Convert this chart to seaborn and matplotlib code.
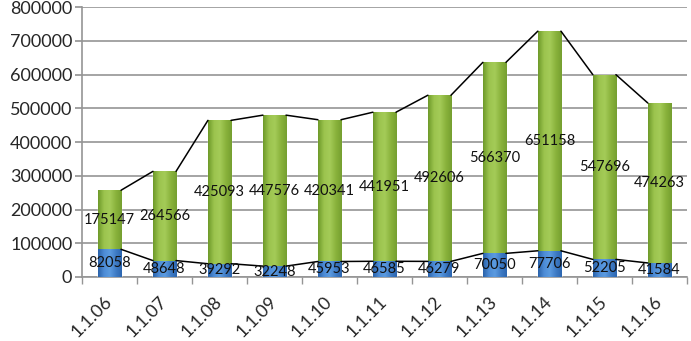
import matplotlib
matplotlib.use("Agg")
import matplotlib.pyplot as plt
import matplotlib.colors as mcolors
import seaborn as sns
import numpy as np
import pandas as pd

categories = ["1.1.06", "1.1.07", "1.1.08", "1.1.09", "1.1.10", "1.1.11",
              "1.1.12", "1.1.13", "1.1.14", "1.1.15", "1.1.16"]
blue_values = [82058, 48648, 39292, 32248, 45953, 46585, 46279, 70050, 77706, 52205, 41584]
green_values = [175147, 264566, 425093, 447576, 420341, 441951, 492606, 566370, 651158, 547696, 474263]
y_ticks = [0, 100000, 200000, 300000, 400000, 500000, 600000, 700000, 800000]

sns.set_theme(style="white")
plt.rcParams['font.family'] = ['Lato', 'DejaVu Sans']

blue = np.array(blue_values)
green = np.array(green_values)
total = blue + green
df = pd.DataFrame({"cat": categories, "blue": blue, "total": total})

fig = plt.figure(figsize=(6.91, 3.41), dpi=100)
ax = fig.add_axes([0.1187, 0.1877, 0.994 - 0.1187, 0.979 - 0.1877])

W = 0.42
sns.barplot(data=df, x="cat", y="total", color="#8CB43E", saturation=1, width=W, ax=ax, zorder=3)
n_green = len(ax.patches)
sns.barplot(data=df, x="cat", y="blue", color="#4A86CF", saturation=1, width=W, ax=ax, zorder=3)

green_cmap = mcolors.LinearSegmentedColormap.from_list(
    "g", ["#6E9A2A", "#9CC44E", "#A4CB58", "#8AB33C", "#759F30"])
blue_cmap = mcolors.LinearSegmentedColormap.from_list(
    "b", ["#2A62AA", "#4D8CD6", "#5B9BE0", "#3F7CC6", "#2C66B0"])
grad = np.linspace(0, 1, 64).reshape(1, -1)
for k, p in enumerate(ax.patches):
    x0, y0 = p.get_x(), p.get_y()
    w, h = p.get_width(), p.get_height()
    cmap = green_cmap if k < n_green else blue_cmap
    im = ax.imshow(grad, cmap=cmap, aspect="auto", extent=[x0, x0 + w, y0, y0 + h],
                   origin="lower", zorder=3.2 if k < n_green else 3.4, interpolation="bilinear")
    im.set_clip_path(p)

n = len(categories)
# series lines (right edge of bar to left edge of next bar)
for series in (total, blue):
    for i in range(n - 1):
        ax.plot([i + W / 2, i + 1 - W / 2], [series[i], series[i + 1]],
                color="black", lw=1.1, zorder=4)

# data labels
for i in range(n):
    ax.text(i, blue[i] + green[i] / 2, f"{green[i]}", ha="center", va="center",
            fontsize=10.5, color="#111111", zorder=5)
    ax.text(i, blue[i] / 2, f"{blue[i]}", ha="center", va="center",
            fontsize=10.5, color="#111111", zorder=5)

ax.set_xlim(-0.5, n - 0.5)
ax.set_ylim(0, 800000)
ax.set_yticks(y_ticks)
ax.set_yticklabels([str(v) for v in y_ticks], fontsize=13)
ax.yaxis.grid(True, color="#959595", lw=1.2, zorder=0)
ax.set_axisbelow(True)
ax.tick_params(axis="y", length=5, color="#959595", direction="out", left=True, pad=2)

ax.set_xticks(range(n))
ax.set_xticklabels(categories, rotation=45, ha="right", va="center",
                   rotation_mode="anchor", fontsize=13)
ax.set_xticks(np.arange(-0.5, n, 1.0), minor=True)
ax.tick_params(axis="x", which="major", length=0, pad=16)
ax.tick_params(axis="x", which="minor", length=5, color="#959595", direction="out", bottom=True)
ax.set_xlabel("")
ax.set_ylabel("")

for s in ("top", "right"):
    ax.spines[s].set_visible(False)
for s in ("left", "bottom"):
    ax.spines[s].set_color("#959595")
    ax.spines[s].set_linewidth(1.2)

fig.savefig("out.png", dpi=100)
